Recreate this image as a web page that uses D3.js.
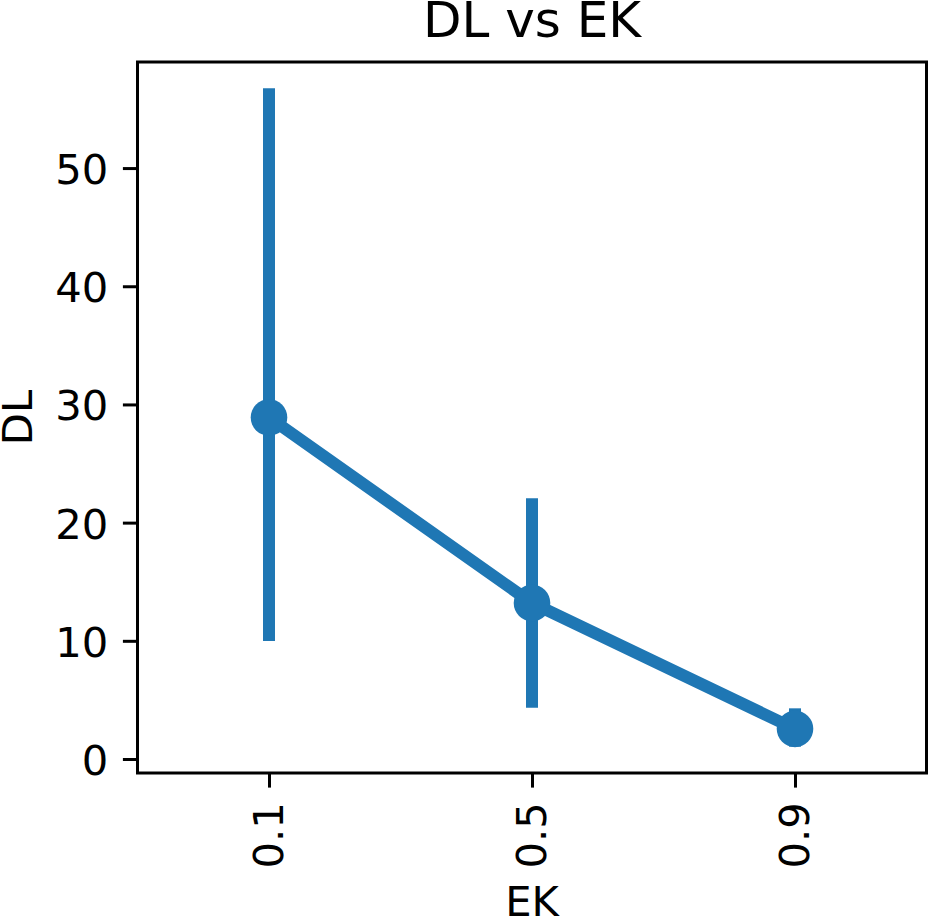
<!DOCTYPE html>
<html>
<head>
<meta charset="utf-8">
<script src="https://cdn.jsdelivr.net/npm/d3@7"></script>
<style>
  html, body { margin: 0; padding: 0; background: #fff; }
  svg { display: block; }
  text { font-family: "DejaVu Sans", sans-serif; fill: #000; }
</style>
</head>
<body>
<svg id="chart" width="929" height="917"></svg>
<script>
// Data
const categories = ["0.1", "0.5", "0.9"];
const meanValues = [28.9, 13.2, 2.55];
const ciLow = [10.5, 4.85, 1.55];
const ciHigh = [56.24, 21.55, 3.78];
const yTicks = [0, 10, 20, 30, 40, 50];
const titleText = "DL vs EK";
const xLabel = "EK";
const yLabel = "DL";

(function () {
const W = 929, H = 917;
const pLeft = 137.5, pRight = 926.5, pTop = 62, pBottom = 773;
const color = "#1f77b4";
const fs = 41.7;

const svg = d3.select("#chart");

// x: categorical with half-step padding on each side
const x = d3.scalePoint().domain(categories).range([pLeft, pRight]).padding(0.5);

// y: matplotlib-style 5% margins around data extent
const lo = d3.min(ciLow), hi = d3.max(ciHigh);
const m = (hi - lo) * 0.05;
const y = d3.scaleLinear().domain([lo - m, hi + m]).range([pBottom, pTop]);

const data = categories.map((c, i) => ({ c, v: meanValues[i], lo: ciLow[i], hi: ciHigh[i] }));

const plot = svg.append("g");

// Connecting line
plot.append("path")
  .datum(data)
  .attr("fill", "none")
  .attr("stroke", color)
  .attr("stroke-width", 12)
  .attr("stroke-linejoin", "round")
  .attr("d", d3.line().x(d => x(d.c)).y(d => y(d.v)));

// CI lines
plot.selectAll("line.ci").data(data).join("line")
  .attr("class", "ci")
  .attr("x1", d => x(d.c)).attr("x2", d => x(d.c))
  .attr("y1", d => y(d.lo)).attr("y2", d => y(d.hi))
  .attr("stroke", color)
  .attr("stroke-width", 12)
  .attr("stroke-linecap", "square");

// Markers
plot.selectAll("circle").data(data).join("circle")
  .attr("cx", d => x(d.c)).attr("cy", d => y(d.v))
  .attr("r", 18.3)
  .attr("fill", color);

// Y axis
const yAxis = d3.axisLeft(y).tickValues(yTicks).tickSize(14.6).tickPadding(14.6).tickFormat(d3.format("d"));
const gy = svg.append("g").attr("transform", `translate(${pLeft},0)`).call(yAxis);
gy.select(".domain").remove();
gy.selectAll(".tick line").attr("stroke", "#000").attr("stroke-width", 3);
gy.selectAll(".tick text")
  .style("font-size", fs + "px")
  .style("font-family", "DejaVu Sans")
  .attr("fill", "#000")
  .attr("dy", "0.37em");

// X axis
const xAxis = d3.axisBottom(x).tickSize(14.6).tickPadding(0);
const gx = svg.append("g").attr("transform", `translate(0,${pBottom})`).call(xAxis);
gx.select(".domain").remove();
gx.selectAll(".tick line").attr("stroke", "#000").attr("stroke-width", 3);
gx.selectAll(".tick text")
  .style("font-size", fs + "px")
  .style("font-family", "DejaVu Sans")
  .attr("fill", "#000")
  .attr("text-anchor", "end")
  .attr("y", 0)
  .attr("dy", 0)
  .attr("transform", "translate(13,29.2) rotate(-90)");

// Spines (frame)
svg.append("rect")
  .attr("x", pLeft).attr("y", pTop)
  .attr("width", pRight - pLeft).attr("height", pBottom - pTop)
  .attr("fill", "none")
  .attr("stroke", "#000")
  .attr("stroke-width", 3)
  .attr("stroke-linejoin", "miter");

// Title
svg.append("text")
  .attr("x", (pLeft + pRight) / 2).attr("y", 37)
  .attr("text-anchor", "middle")
  .style("font-size", "50px")
  .text(titleText);

// X label
svg.append("text")
  .attr("x", (pLeft + pRight) / 2).attr("y", 916)
  .attr("text-anchor", "middle")
  .style("font-size", fs + "px")
  .text(xLabel);

// Y label
svg.append("text")
  .attr("transform", `translate(31.5,${(pTop + pBottom) / 2}) rotate(-90)`)
  .attr("text-anchor", "middle")
  .style("font-size", fs + "px")
  .text(yLabel);
})();
</script>
</body>
</html>
